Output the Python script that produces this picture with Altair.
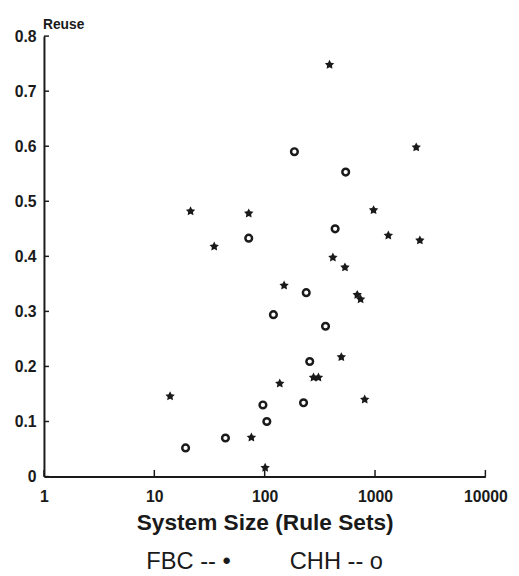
import altair as alt
import pandas as pd

# FBC series (stars)
fbc_size = [387, 2362, 21.3, 71.7, 34.9, 970, 1320, 2548, 415, 534, 150, 690, 740,
            495, 277, 307, 137, 806, 75.8, 101, 13.9]
fbc_reuse = [0.748, 0.598, 0.482, 0.478, 0.418, 0.484, 0.438, 0.429, 0.398, 0.380,
             0.347, 0.330, 0.322, 0.217, 0.180, 0.180, 0.169, 0.140, 0.071, 0.016, 0.146]

# CHH series (open circles)
chh_size = [186, 542, 435, 71.7, 238, 120, 356, 256, 225, 96.4, 104.6, 19.2, 44.1]
chh_reuse = [0.590, 0.553, 0.450, 0.433, 0.334, 0.294, 0.273, 0.209, 0.134, 0.130,
             0.100, 0.052, 0.070]

x_ticks = [1, 10, 100, 1000, 10000]
y_ticks = [0, 0.1, 0.2, 0.3, 0.4, 0.5, 0.6, 0.7, 0.8]

x_title = "System Size (Rule Sets)"
y_title = "Reuse"
legend_text = "FBC -- \u2022" + "\u00a0" * 9 + "CHH -- o"

W, H = 448, 447
FONT = "Liberation Sans"
INK = "#1a1a1a"

STAR = ("M0,-1 L0.3,-0.41 L0.951,-0.309 L0.49,0.16 L0.588,0.809 "
        "L0,0.52 L-0.588,0.809 L-0.49,0.16 L-0.951,-0.309 L-0.3,-0.41 Z")

df_fbc = pd.DataFrame({"rules": fbc_size, "reuse": fbc_reuse})
df_chh = pd.DataFrame({"rules": chh_size, "reuse": chh_reuse})
df_xt = pd.DataFrame({"rules": x_ticks})
df_yt = pd.DataFrame({"reuse": y_ticks})

x_scale = alt.Scale(type="log", domain=[1, 10000], nice=False)
y_scale = alt.Scale(domain=[0, 0.8], nice=False, zero=True)

x_axis = alt.Axis(
    values=x_ticks, format="d", ticks=False, grid=False,
    domainColor=INK, domainWidth=2,
    labelFont=FONT, labelFontSize=16, labelFontWeight="bold", labelColor=INK,
    labelPadding=12, labelFlush=False,
    title=x_title, titleFont=FONT, titleFontSize=23, titleFontWeight="bold",
    titleColor=INK, titleY=54, titleBaseline="alphabetic",
)
y_axis = alt.Axis(
    values=y_ticks, format="~g", ticks=False, grid=False,
    domainColor=INK, domainWidth=2,
    labelFont=FONT, labelFontSize=16, labelFontWeight="bold", labelColor=INK,
    labelPadding=8, labelFlush=False,
    title=y_title, titleFont=FONT, titleFontSize=14, titleFontWeight="bold",
    titleColor=INK, titleAngle=0, titleAlign="left", titleBaseline="alphabetic",
    titleX=-1.5, titleY=-8,
)

fbc = alt.Chart(df_fbc).mark_point(
    shape=STAR, filled=True, color=INK, size=100, opacity=1
).encode(
    x=alt.X("rules:Q", scale=x_scale, axis=x_axis),
    y=alt.Y("reuse:Q", scale=y_scale, axis=y_axis),
)

chh = alt.Chart(df_chh).mark_point(
    shape="circle", filled=False, color=INK, size=46, strokeWidth=2.5, opacity=1
).encode(
    x=alt.X("rules:Q", scale=x_scale, axis=x_axis),
    y=alt.Y("reuse:Q", scale=y_scale, axis=y_axis),
)

# inward tick marks, drawn in data units through the shared scales
xt = alt.Chart(df_xt).mark_rule(color=INK, strokeWidth=1.5).encode(
    x=alt.X("rules:Q", scale=x_scale, axis=x_axis),
    y=alt.datum(0, scale=y_scale),
    y2=alt.datum(0.012),
)

yt = alt.Chart(df_yt).mark_rule(color=INK, strokeWidth=1.5).encode(
    y=alt.Y("reuse:Q", scale=y_scale, axis=y_axis),
    x=alt.datum(1, scale=x_scale),
    x2=alt.datum(1.11),
)

chart = alt.layer(fbc, chh, xt, yt).properties(
    width=W, height=H,
    padding={"left": 36.5, "top": 24.3, "right": 26, "bottom": 97},
    autosize=alt.AutoSizeParams(type="none"),
    background="white",
    title=alt.TitleParams(
        text=legend_text, orient="bottom", anchor="middle",
        font=FONT, fontSize=24, fontWeight="normal", color=INK,
        baseline="alphabetic", offset=35,
    ),
).configure_view(stroke=None)

chart.save("out.html", embed_options={"renderer": "svg", "actions": False})
